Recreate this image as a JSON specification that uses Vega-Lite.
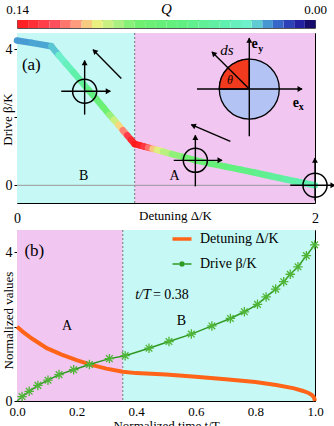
{
  "$schema": "https://vega.github.io/schema/vega-lite/v6.json",
  "padding": {"left": 0, "right": 0, "top": 0, "bottom": 0},
  "spacing": 3,
  "config": {
    "font": "Liberation Serif, serif",
    "view": {"stroke": "#000", "strokeWidth": 1},
    "axis": {"grid": false, "domain": false, "labelFontSize": 13, "titleFontSize": 13, "titleFontWeight": "normal", "labelColor": "#000", "titleColor": "#000", "tickColor": "#000", "labelFont": "Liberation Serif, serif", "titleFont": "Liberation Serif, serif"},
    "legend": {"labelFont": "Liberation Serif, serif", "labelFontSize": 14, "labelColor": "#000"},
    "text": {"font": "Liberation Serif, serif"}
  },
  "resolve": {"scale": {"color": "independent", "fill": "independent"}, "legend": {"color": "independent", "fill": "independent"}},
  "datasets": {
    "apath": [
      {"d": 0.00, "b": 4.26, "q": 0.023}, {"d": 0.10, "b": 4.19, "q": 0.024}, {"d": 0.23, "b": 4.09, "q": 0.027},
      {"d": 0.28, "b": 3.83, "q": 0.032}, {"d": 0.33, "b": 3.57, "q": 0.038}, {"d": 0.38, "b": 3.32, "q": 0.045},
      {"d": 0.43, "b": 3.06, "q": 0.054}, {"d": 0.48, "b": 2.80, "q": 0.062}, {"d": 0.53, "b": 2.55, "q": 0.072},
      {"d": 0.58, "b": 2.29, "q": 0.082}, {"d": 0.62, "b": 2.08, "q": 0.090}, {"d": 0.65, "b": 1.93, "q": 0.098},
      {"d": 0.68, "b": 1.78, "q": 0.106}, {"d": 0.71, "b": 1.62, "q": 0.116}, {"d": 0.74, "b": 1.47, "q": 0.128},
      {"d": 0.765, "b": 1.34, "q": 0.135}, {"d": 0.79, "b": 1.215, "q": 0.14}, {"d": 0.82, "b": 1.18, "q": 0.137},
      {"d": 0.85, "b": 1.145, "q": 0.13}, {"d": 0.88, "b": 1.11, "q": 0.118}, {"d": 0.91, "b": 1.075, "q": 0.108},
      {"d": 0.94, "b": 1.04, "q": 0.101}, {"d": 0.98, "b": 0.99, "q": 0.095}, {"d": 1.04, "b": 0.92, "q": 0.089},
      {"d": 1.12, "b": 0.83, "q": 0.083}, {"d": 1.20, "b": 0.735, "q": 0.077}, {"d": 1.30, "b": 0.64, "q": 0.071},
      {"d": 1.40, "b": 0.55, "q": 0.066}, {"d": 1.50, "b": 0.46, "q": 0.061}, {"d": 1.60, "b": 0.37, "q": 0.056},
      {"d": 1.70, "b": 0.275, "q": 0.051}, {"d": 1.80, "b": 0.18, "q": 0.046}, {"d": 1.90, "b": 0.09, "q": 0.042},
      {"d": 2.00, "b": 0.00, "q": 0.038}
    ],
    "segs": [
      {"d": 0.297, "b": 2.765, "d2": 0.626, "b2": 2.765},
      {"d": 0.454, "b": 2.08, "d2": 0.454, "b2": 3.67},
      {"d": 1.052, "b": 0.735, "d2": 1.376, "b2": 0.735},
      {"d": 1.197, "b": -0.03, "d2": 1.197, "b2": 1.47},
      {"d": 1.834, "b": 0.0, "d2": 2.134, "b2": 0.0},
      {"d": 2.0, "b": -0.45, "d2": 2.0, "b2": 0.80},
      {"d": 0.70, "b": 3.14, "d2": 0.51, "b2": 3.99},
      {"d": 1.432, "b": 1.294, "d2": 1.170, "b2": 1.785},
      {"d": 1.208, "b": 2.832, "d2": 1.913, "b2": 2.832},
      {"d": 1.559, "b": 1.44, "d2": 1.559, "b2": 4.33},
      {"d": 1.559, "b": 2.832, "d2": 1.309, "b2": 3.92}
    ],
    "heads": [
      {"d": 0.613, "b": 2.765, "ang": 90}, {"d": 0.454, "b": 3.61, "ang": 0},
      {"d": 1.363, "b": 0.735, "ang": 90}, {"d": 1.197, "b": 1.41, "ang": 0},
      {"d": 2.121, "b": 0.0, "ang": 90}, {"d": 2.0, "b": 0.74, "ang": 0},
      {"d": 0.52, "b": 3.95, "ang": 315}, {"d": 1.182, "b": 1.762, "ang": 293},
      {"d": 1.90, "b": 2.832, "ang": 90}, {"d": 1.559, "b": 4.27, "ang": 0},
      {"d": 1.318, "b": 3.88, "ang": 315}
    ],
    "bdata": [
      {"t": 0.0, "v": 2.0, "s": "Detuning Δ/K"}, {"t": 0.02, "v": 1.86, "s": "Detuning Δ/K"}, {"t": 0.05, "v": 1.68, "s": "Detuning Δ/K"},
      {"t": 0.1, "v": 1.42, "s": "Detuning Δ/K"}, {"t": 0.15, "v": 1.25, "s": "Detuning Δ/K"}, {"t": 0.2, "v": 1.10, "s": "Detuning Δ/K"},
      {"t": 0.25, "v": 0.97, "s": "Detuning Δ/K"}, {"t": 0.3, "v": 0.87, "s": "Detuning Δ/K"}, {"t": 0.355, "v": 0.785, "s": "Detuning Δ/K"},
      {"t": 0.4, "v": 0.75, "s": "Detuning Δ/K"}, {"t": 0.45, "v": 0.73, "s": "Detuning Δ/K"}, {"t": 0.5, "v": 0.71, "s": "Detuning Δ/K"},
      {"t": 0.6, "v": 0.65, "s": "Detuning Δ/K"}, {"t": 0.7, "v": 0.585, "s": "Detuning Δ/K"}, {"t": 0.8, "v": 0.51, "s": "Detuning Δ/K"},
      {"t": 0.87, "v": 0.43, "s": "Detuning Δ/K"}, {"t": 0.93, "v": 0.34, "s": "Detuning Δ/K"}, {"t": 0.96, "v": 0.27, "s": "Detuning Δ/K"},
      {"t": 0.98, "v": 0.21, "s": "Detuning Δ/K"}, {"t": 0.99, "v": 0.16, "s": "Detuning Δ/K"}, {"t": 0.997, "v": 0.09, "s": "Detuning Δ/K"},
      {"t": 1.0, "v": 0.0, "s": "Detuning Δ/K"},
      {"t": 0.0, "v": 0.0, "s": "Drive β/K"}, {"t": 0.017, "v": 0.12, "s": "Drive β/K"}, {"t": 0.041, "v": 0.26, "s": "Drive β/K"},
      {"t": 0.07, "v": 0.42, "s": "Drive β/K"}, {"t": 0.104, "v": 0.56, "s": "Drive β/K"}, {"t": 0.141, "v": 0.71, "s": "Drive β/K"},
      {"t": 0.19, "v": 0.84, "s": "Drive β/K"}, {"t": 0.243, "v": 0.98, "s": "Drive β/K"}, {"t": 0.31, "v": 1.14, "s": "Drive β/K"},
      {"t": 0.363, "v": 1.22, "s": "Drive β/K"}, {"t": 0.443, "v": 1.42, "s": "Drive β/K"}, {"t": 0.51, "v": 1.60, "s": "Drive β/K"},
      {"t": 0.585, "v": 1.80, "s": "Drive β/K"}, {"t": 0.654, "v": 2.02, "s": "Drive β/K"}, {"t": 0.716, "v": 2.22, "s": "Drive β/K"},
      {"t": 0.763, "v": 2.40, "s": "Drive β/K"}, {"t": 0.807, "v": 2.60, "s": "Drive β/K"}, {"t": 0.836, "v": 2.80, "s": "Drive β/K"},
      {"t": 0.868, "v": 3.01, "s": "Drive β/K"}, {"t": 0.895, "v": 3.21, "s": "Drive β/K"}, {"t": 0.917, "v": 3.41, "s": "Drive β/K"},
      {"t": 0.943, "v": 3.61, "s": "Drive β/K"}, {"t": 0.971, "v": 3.91, "s": "Drive β/K"}, {"t": 0.999, "v": 4.20, "s": "Drive β/K"}
    ]
  },
  "vconcat": [
    {
      "width": 298,
      "height": 8,
      "view": {"stroke": "#555"},
      "data": {"values": [
        {"q": 0.0025}, {"q": 0.0075}, {"q": 0.0125}, {"q": 0.0175}, {"q": 0.0225}, {"q": 0.0275}, {"q": 0.0325},
        {"q": 0.0375}, {"q": 0.0425}, {"q": 0.0475}, {"q": 0.0525}, {"q": 0.0575}, {"q": 0.0625}, {"q": 0.0675},
        {"q": 0.0725}, {"q": 0.0775}, {"q": 0.0825}, {"q": 0.0875}, {"q": 0.0925}, {"q": 0.0975}, {"q": 0.1025},
        {"q": 0.1075}, {"q": 0.1125}, {"q": 0.1175}, {"q": 0.1225}, {"q": 0.1275}, {"q": 0.1325}, {"q": 0.1375}
      ]},
      "mark": {"type": "rect"},
      "encoding": {
        "x": {"field": "q", "type": "quantitative", "bin": {"step": 0.005, "extent": [0, 0.14]},
              "scale": {"domain": [0, 0.14], "reverse": true, "nice": false, "zero": false},
              "axis": {"orient": "top", "values": [0, 0.14], "format": ".2f", "ticks": false, "labelPadding": 7, "labelBaseline": "alphabetic", "labelFlush": false, "labelFontSize": 13,
                       "title": "Q", "titleFontStyle": "italic", "titleFontSize": 15, "titleY": -7, "titleBaseline": "alphabetic"}},
        "color": {"field": "q", "type": "quantitative", "legend": null,
                  "scale": {"type": "linear", "domain": [0, 0.0084, 0.0168, 0.0238, 0.0308, 0.042, 0.063, 0.084, 0.0924, 0.1036, 0.112, 0.1232, 0.14],
                            "range": ["#100050", "#2424a8", "#3560c8", "#4aa4d4", "#70f0d0", "#60f0b0", "#60f080", "#70f070", "#a8f080", "#f0f080", "#ffa080", "#ff4a5a", "#ff1a1a"], "interpolate": "rgb"}}
      }
    },
    {
      "width": 298,
      "height": 170,
      "layer": [
        {
          "data": {"values": [{"d": 0, "d2": 0.79, "r": "B"}, {"d": 0.79, "d2": 2, "r": "A"}]},
          "mark": {"type": "rect"},
          "encoding": {
            "x": {"field": "d", "type": "quantitative", "scale": {"domain": [0, 2], "nice": false, "zero": false},
                  "axis": {"values": [0, 2], "format": "d", "ticks": false, "labelPadding": 8, "labelFlush": false, "labelFontSize": 14, "title": "Detuning  Δ/K", "titleY": 16, "titleBaseline": "alphabetic", "titleX": 158}},
            "x2": {"field": "d2"},
            "fill": {"field": "r", "type": "nominal", "scale": {"domain": ["A", "B"], "range": ["#f1c6f1", "#c6f8f5"]}, "legend": null}
          }
        },
        {
          "data": {"values": [{"d": 0.79}]},
          "mark": {"type": "rule", "color": "#777", "strokeDash": [2, 2], "strokeWidth": 1},
          "encoding": {"x": {"field": "d", "type": "quantitative"}}
        },
        {
          "data": {"values": [{"b": 0}]},
          "mark": {"type": "rule", "color": "#999", "strokeWidth": 1},
          "encoding": {"y": {"field": "b", "type": "quantitative", "scale": {"domain": [-0.52, 4.48], "nice": false, "zero": false},
                  "axis": {"values": [0, 2, 4], "format": "d", "labelExpr": "datum.value == 2 ? '' : datum.label", "tickSize": 3, "labelPadding": 2, "labelFontSize": 14,
                           "title": "Drive  β/K", "titleX": -10, "titleY": 86, "titleBaseline": "middle"}}}
        },
        {
          "data": {"name": "apath"},
          "transform": [
            {"window": [{"op": "lead", "field": "d", "as": "d2"}, {"op": "lead", "field": "b", "as": "b2"}], "sort": [{"field": "d", "order": "ascending"}]},
            {"filter": "datum.d2 != null"}
          ],
          "mark": {"type": "rule", "strokeWidth": 6.5, "strokeCap": "round"},
          "encoding": {
            "x": {"field": "d", "type": "quantitative"},
            "y": {"field": "b", "type": "quantitative"},
            "x2": {"field": "d2"},
            "y2": {"field": "b2"},
            "color": {"field": "q", "type": "quantitative", "legend": null,
                      "scale": {"type": "linear", "domain": [0, 0.0084, 0.0168, 0.0238, 0.0308, 0.042, 0.063, 0.084, 0.0924, 0.1036, 0.112, 0.1232, 0.14],
                                "range": ["#100050", "#2424a8", "#3560c8", "#4aa4d4", "#70f0d0", "#60f0b0", "#60f080", "#70f070", "#a8f080", "#f0f080", "#ffa080", "#ff4a5a", "#ff1a1a"], "interpolate": "rgb"}}
          }
        },
        {
          "data": {"values": [{"d": 1.559, "b": 2.832}]},
          "mark": {"type": "point", "shape": "circle", "filled": true, "fill": "#b3c3f3", "stroke": "#000", "strokeWidth": 1.3, "opacity": 1, "size": 3600},
          "encoding": {"x": {"field": "d", "type": "quantitative"}, "y": {"field": "b", "type": "quantitative"}}
        },
        {
          "data": {"values": [{"d": 1.559, "b": 2.832}]},
          "mark": {"type": "arc", "theta": 4.7124, "theta2": 6.2832, "radius": 30, "fill": "#f23a1e", "stroke": "#000", "strokeWidth": 1.3},
          "encoding": {"x": {"field": "d", "type": "quantitative"}, "y": {"field": "b", "type": "quantitative"}}
        },
        {
          "data": {"name": "segs"},
          "mark": {"type": "rule", "color": "#000", "strokeWidth": 1.4},
          "encoding": {
            "x": {"field": "d", "type": "quantitative"},
            "y": {"field": "b", "type": "quantitative"},
            "x2": {"field": "d2"},
            "y2": {"field": "b2"}
          }
        },
        {
          "data": {"name": "heads"},
          "mark": {"type": "point", "shape": "triangle-up", "filled": true, "color": "#000", "opacity": 1, "size": 35},
          "encoding": {
            "x": {"field": "d", "type": "quantitative"},
            "y": {"field": "b", "type": "quantitative"},
            "angle": {"field": "ang", "type": "quantitative", "scale": null}
          }
        },
        {
          "data": {"values": [{"d": 0.454, "b": 2.765}, {"d": 1.197, "b": 0.735}, {"d": 2.0, "b": 0.0}]},
          "mark": {"type": "point", "shape": "circle", "filled": false, "color": "#000", "strokeWidth": 1.5, "opacity": 1, "size": 580},
          "encoding": {"x": {"field": "d", "type": "quantitative"}, "y": {"field": "b", "type": "quantitative"}}
        },
        {
          "data": {"values": [{"d": 0.033, "b": 3.53, "label": "(a)"}]},
          "mark": {"type": "text", "fontSize": 17, "align": "left", "baseline": "middle", "color": "#000"},
          "encoding": {"x": {"field": "d", "type": "quantitative"}, "y": {"field": "b", "type": "quantitative"}, "text": {"field": "label"}}
        },
        {
          "data": {"values": [{"d": 0.448, "b": 0.265, "label": "B"}, {"d": 1.058, "b": 0.265, "label": "A"}]},
          "mark": {"type": "text", "fontSize": 14, "align": "center", "baseline": "middle", "color": "#000"},
          "encoding": {"x": {"field": "d", "type": "quantitative"}, "y": {"field": "b", "type": "quantitative"}, "text": {"field": "label"}}
        },
        {
          "data": {"values": [{"d": 1.409, "b": 3.99, "label": "ds"}]},
          "mark": {"type": "text", "fontSize": 15, "fontStyle": "italic", "align": "center", "baseline": "middle", "color": "#000"},
          "encoding": {"x": {"field": "d", "type": "quantitative"}, "y": {"field": "b", "type": "quantitative"}, "text": {"field": "label"}}
        },
        {
          "data": {"values": [{"d": 1.43, "b": 3.09, "label": "θ"}]},
          "mark": {"type": "text", "fontSize": 12, "fontStyle": "italic", "align": "center", "baseline": "middle", "color": "#000"},
          "encoding": {"x": {"field": "d", "type": "quantitative"}, "y": {"field": "b", "type": "quantitative"}, "text": {"field": "label"}}
        },
        {
          "data": {"values": [{"d": 1.594, "b": 4.16, "label": "e"}, {"d": 1.871, "b": 2.42, "label": "e"}]},
          "mark": {"type": "text", "fontSize": 14, "fontWeight": "bold", "align": "center", "baseline": "middle", "color": "#000"},
          "encoding": {"x": {"field": "d", "type": "quantitative"}, "y": {"field": "b", "type": "quantitative"}, "text": {"field": "label"}}
        },
        {
          "data": {"values": [{"d": 1.636, "b": 4.02, "label": "y"}, {"d": 1.908, "b": 2.30, "label": "x"}]},
          "mark": {"type": "text", "fontSize": 10, "fontWeight": "bold", "align": "center", "baseline": "middle", "color": "#000"},
          "encoding": {"x": {"field": "d", "type": "quantitative"}, "y": {"field": "b", "type": "quantitative"}, "text": {"field": "label"}}
        }
      ]
    },
    {
      "width": 298,
      "height": 171,
      "layer": [
        {
          "data": {"values": [{"t": 0, "t2": 0.355, "r": "A"}, {"t": 0.355, "t2": 1, "r": "B"}]},
          "mark": {"type": "rect"},
          "encoding": {
            "x": {"field": "t", "type": "quantitative", "scale": {"domain": [0, 1], "nice": false, "zero": false},
                  "axis": {"values": [0, 0.2, 0.4, 0.6, 0.8, 1], "format": ".1f", "tickSize": -4, "labelPadding": 8, "labelFlush": false,
                           "title": "Normalized time  t/T", "titleY": 18, "titleBaseline": "top"}},
            "x2": {"field": "t2"},
            "fill": {"field": "r", "type": "nominal", "scale": {"domain": ["A", "B"], "range": ["#f1c6f1", "#c6f8f5"]}, "legend": null}
          }
        },
        {
          "data": {"values": [{"t": 0.355}]},
          "mark": {"type": "rule", "color": "#777", "strokeDash": [2, 2], "strokeWidth": 1},
          "encoding": {"x": {"field": "t", "type": "quantitative"}}
        },
        {
          "data": {"name": "bdata"},
          "transform": [{"filter": "datum.s == 'Detuning Δ/K'"}],
          "mark": {"type": "line", "strokeWidth": 4},
          "encoding": {
            "x": {"field": "t", "type": "quantitative"},
            "y": {"field": "v", "type": "quantitative", "scale": {"domain": [0, 4.6], "nice": false, "zero": false},
                  "axis": {"values": [0, 2, 4], "format": "d", "labelExpr": "datum.value == 2 ? '' : datum.label", "tickSize": 3, "labelPadding": 2, "labelFontSize": 14,
                           "title": "Normalized values", "titleX": -9, "titleY": 90, "titleBaseline": "middle"}},
            "color": {"field": "s", "type": "nominal",
                      "scale": {"domain": ["Detuning Δ/K", "Drive β/K"], "range": ["#ff6418", "#2f9a22"]},
                      "legend": {"title": null, "orient": "none", "legendX": 158, "legendY": 2, "symbolType": "stroke", "symbolSize": 360,
                                 "symbolStrokeWidth": 3.5, "labelOffset": 11, "rowPadding": 11, "labelFontSize": 14,
                                 "encode": {"symbols": {"update": {
                                   "shape": {"signal": "datum.value === 'Drive β/K' ? 'M-1,0L1,0M0,-0.3L0,0.3M-0.22,-0.22L0.22,0.22M-0.22,0.22L0.22,-0.22' : 'stroke'"},
                                   "strokeWidth": {"signal": "datum.value === 'Drive β/K' ? 1.5 : 3.5"}}}}}}
          }
        },
        {
          "data": {"name": "bdata"},
          "transform": [{"filter": "datum.s == 'Drive β/K'"}],
          "mark": {"type": "line", "strokeWidth": 1.5},
          "encoding": {
            "x": {"field": "t", "type": "quantitative"},
            "y": {"field": "v", "type": "quantitative"},
            "color": {"field": "s", "type": "nominal"}
          }
        },
        {
          "data": {"name": "bdata"},
          "transform": [{"filter": "datum.s == 'Drive β/K' && datum.t > 0"}],
          "mark": {"type": "point", "shape": "M-1,0L1,0M0,-1L0,1M-0.7,-0.7L0.7,0.7M-0.7,0.7L0.7,-0.7", "filled": false, "stroke": "#4fb536", "strokeWidth": 1.3, "opacity": 1, "size": 90},
          "encoding": {
            "x": {"field": "t", "type": "quantitative"},
            "y": {"field": "v", "type": "quantitative"}
          }
        },
        {
          "data": {"values": [{"t": 0.025, "v": 4.03, "label": "(b)"}]},
          "mark": {"type": "text", "fontSize": 17, "align": "left", "baseline": "middle", "color": "#000"},
          "encoding": {"x": {"field": "t", "type": "quantitative"}, "y": {"field": "v", "type": "quantitative"}, "text": {"field": "label"}}
        },
        {
          "data": {"values": [{"t": 0.168, "v": 2.02, "label": "A"}, {"t": 0.552, "v": 2.15, "label": "B"}]},
          "mark": {"type": "text", "fontSize": 14, "align": "center", "baseline": "middle", "color": "#000"},
          "encoding": {"x": {"field": "t", "type": "quantitative"}, "y": {"field": "v", "type": "quantitative"}, "text": {"field": "label"}}
        },
        {
          "data": {"values": [{"t": 0.449, "v": 2.86, "label": "t/T"}]},
          "mark": {"type": "text", "fontSize": 14, "fontStyle": "italic", "align": "right", "baseline": "middle", "color": "#000"},
          "encoding": {"x": {"field": "t", "type": "quantitative"}, "y": {"field": "v", "type": "quantitative"}, "text": {"field": "label"}}
        },
        {
          "data": {"values": [{"t": 0.456, "v": 2.86, "label": "= 0.38"}]},
          "mark": {"type": "text", "fontSize": 14, "align": "left", "baseline": "middle", "color": "#000"},
          "encoding": {"x": {"field": "t", "type": "quantitative"}, "y": {"field": "v", "type": "quantitative"}, "text": {"field": "label"}}
        }
      ]
    }
  ]
}
